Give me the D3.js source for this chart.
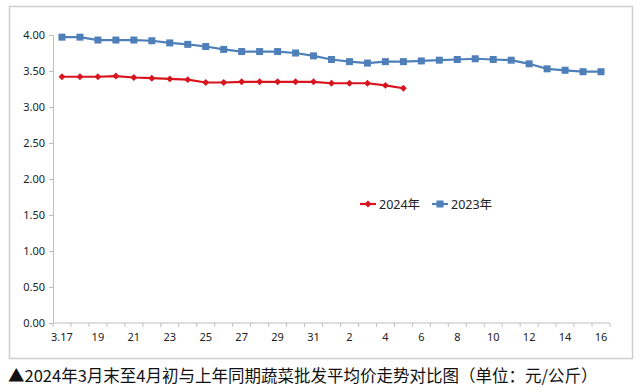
<!DOCTYPE html>
<html>
<head>
<meta charset="utf-8">
<script src="https://cdn.jsdelivr.net/npm/d3@7"></script>
<style>
  html, body { margin: 0; padding: 0; background: #fff; }
  svg { display: block; }
</style>
</head>
<body>
<svg id="chart" width="640" height="392"></svg>
<script>
// ---- data ----
const categories = ["3.17","3.18","3.19","3.20","3.21","3.22","3.23","3.24","3.25","3.26","3.27","3.28","3.29","3.30","3.31",
  "4.1","4.2","4.3","4.4","4.5","4.6","4.7","4.8","4.9","4.10","4.11","4.12","4.13","4.14","4.15","4.16"];
const tickLabels = ["3.17","19","21","23","25","27","29","31","2","4","6","8","10","12","14","16"];
const tickCategories = ["3.17","3.19","3.21","3.23","3.25","3.27","3.29","3.31","4.2","4.4","4.6","4.8","4.10","4.12","4.14","4.16"];
const values2024 = [3.42,3.42,3.42,3.43,3.41,3.40,3.39,3.38,3.34,3.34,3.35,3.35,3.35,3.35,3.35,3.33,3.33,3.33,3.30,3.26];
const values2023 = [3.97,3.97,3.93,3.93,3.93,3.92,3.89,3.87,3.84,3.80,3.77,3.77,3.77,3.75,3.71,3.66,3.63,3.61,3.63,3.63,3.64,3.65,3.66,3.67,3.66,3.65,3.60,3.53,3.51,3.49,3.49];
const yTicks = [0,0.5,1,1.5,2,2.5,3,3.5,4];
const seriesNames = ["2024年","2023年"];
const caption = "▲2024年3月末至4月初与上年同期蔬菜批发平均价走势对比图（单位：元/公斤）";

const svg = d3.select("#chart");
const font = "'Noto Sans', 'Noto Sans CJK SC', sans-serif";

// frame
svg.append("rect").attr("x", 9.5).attr("y", 6.5).attr("width", 623).attr("height", 352)
  .attr("fill", "#fff").attr("stroke", "#cfcfcf").attr("stroke-width", 1.5);

const x = d3.scaleBand().domain(categories).range([53, 610]).paddingInner(0).paddingOuter(0);
const y = d3.scaleLinear().domain([0, 4]).range([323, 35]);

// y axis
const yAxis = svg.append("g").attr("transform", "translate(53,0)")
  .call(d3.axisLeft(y).tickValues(yTicks).tickFormat(d3.format(".2f")).tickSize(4).tickPadding(4));
yAxis.select(".domain").attr("stroke", "#bfbfbf");
yAxis.selectAll(".tick line").attr("stroke", "#bfbfbf");
yAxis.selectAll("text").attr("font-family", font).attr("font-size", 11).attr("fill", "#222");

// x axis: ticks at band boundaries
const xg = svg.append("g").attr("transform", "translate(0,323)");
xg.append("line").attr("x1", 53).attr("x2", 610).attr("y1", 0).attr("y2", 0).attr("stroke", "#bfbfbf");
const boundaries = categories.map(c => x(c)).concat([x.range()[1]]);
xg.selectAll("line.tk").data(boundaries).join("line").attr("class", "tk")
  .attr("x1", d => d).attr("x2", d => d).attr("y1", 0).attr("y2", 4).attr("stroke", "#bfbfbf");
xg.selectAll("text").data(tickCategories).join("text")
  .attr("x", d => x(d) + x.bandwidth() / 2).attr("y", 18)
  .attr("text-anchor", "middle").attr("font-family", font).attr("font-size", 11).attr("fill", "#222")
  .text((d, i) => tickLabels[i]);

const cx = d => x(d) + x.bandwidth() / 2;
const line = d3.line().x((d, i) => cx(categories[i])).y(d => y(d));

const blue = "#4f7fb9", red = "#d9141e";

// 2023
svg.append("path").datum(values2023).attr("d", line).attr("fill", "none").attr("stroke", blue).attr("stroke-width", 2.2);
svg.selectAll("rect.m23").data(values2023).join("rect").attr("class", "m23")
  .attr("x", (d, i) => cx(categories[i]) - 3.5).attr("y", d => y(d) - 3.5)
  .attr("width", 7).attr("height", 7).attr("fill", blue);

// 2024
svg.append("path").datum(values2024).attr("d", line).attr("fill", "none").attr("stroke", red).attr("stroke-width", 2.2);
const diamond = d3.symbol().type(d3.symbolDiamond2).size(30);
svg.selectAll("path.m24").data(values2024).join("path").attr("class", "m24")
  .attr("transform", (d, i) => `translate(${cx(categories[i])},${y(d)})`)
  .attr("d", diamond).attr("fill", red);

// legend
const lg = svg.append("g").attr("transform", "translate(0,204)");
const legendItems = [{name: seriesNames[0], color: red, x0: 360, type: "d"}, {name: seriesNames[1], color: blue, x0: 432, type: "s"}];
legendItems.forEach(it => {
  lg.append("line").attr("x1", it.x0).attr("x2", it.x0 + 16).attr("y1", 0).attr("y2", 0).attr("stroke", it.color).attr("stroke-width", 2.2);
  if (it.type === "d") {
    lg.append("path").attr("transform", `translate(${it.x0 + 8},0)`).attr("d", diamond).attr("fill", it.color);
  } else {
    lg.append("rect").attr("x", it.x0 + 4.5).attr("y", -3.5).attr("width", 7).attr("height", 7).attr("fill", it.color);
  }
  lg.append("text").attr("x", it.x0 + 19).attr("y", 4.5).attr("font-family", font).attr("font-size", 12.5).attr("fill", "#222").text(it.name);
});

// caption
svg.append("text").attr("x", 8).attr("y", 382).attr("font-family", "'Noto Sans CJK SC', sans-serif")
  .attr("font-size", 16.5).attr("fill", "#111").text(caption);
</script>
</body>
</html>
